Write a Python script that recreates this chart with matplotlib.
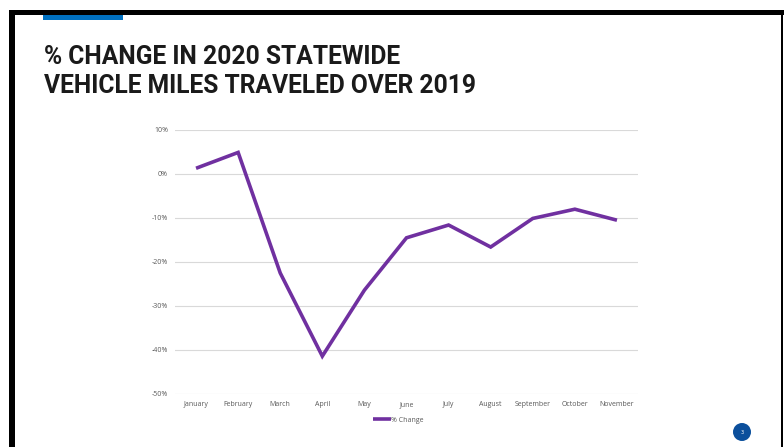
import matplotlib
matplotlib.use("Agg")
import matplotlib.pyplot as plt
from matplotlib.patches import Rectangle, Ellipse
from matplotlib.ticker import FuncFormatter

months = ["January", "February", "March", "April", "May", "June",
          "July", "August", "September", "October", "November"]
pct_change = [1.3, 4.9, -22.5, -41.4, -26.4, -14.5, -11.6, -16.6, -10.1, -8.0, -10.5]
y_ticks = [10, 0, -10, -20, -30, -40, -50]
series_name = "% Change"
title_lines = ["% CHANGE IN 2020 STATEWIDE", "VEHICLE MILES TRAVELED OVER 2019"]
page_number = "3"

W, H = 784, 447
fig = plt.figure(figsize=(W / 100, H / 100), dpi=100)
fig.patch.set_facecolor("white")


def fx(px):
    return px / W


def fy(py):
    return 1 - py / H


def rect_px(x0, y0, x1, y1, color):
    fig.add_artist(Rectangle((fx(x0), fy(y1)), fx(x1) - fx(x0), fy(y0) - fy(y1),
                             transform=fig.transFigure, facecolor=color,
                             edgecolor="none", zorder=5))


# slide frame
rect_px(9, 10, 784, 15, "black")
rect_px(9, 10, 15, 447, "black")
rect_px(781, 10, 783, 447, "black")
# accent bar
rect_px(43, 15, 123, 20, "#0070C0")

# title
title_font = ["Roboto", "DejaVu Sans"]
for i, line in enumerate(title_lines):
    fig.text(fx(44), fy(57 + 29 * i), line, fontsize=17.7, fontweight="bold",
             family=title_font, color="#1a1a1a", va="center", ha="left")

# chart
ax = fig.add_axes([fx(175), fy(394), fx(638) - fx(175), fy(130) - fy(394)])
x = list(range(len(months)))
ax.plot(x, pct_change, color="#7030A0", linewidth=2.6, label=series_name,
        solid_capstyle="butt", solid_joinstyle="miter", zorder=3)
ax.set_xlim(-0.5, len(months) - 0.5)
ax.set_ylim(-50, 10)
ax.set_yticks(y_ticks)
ax.yaxis.set_major_formatter(FuncFormatter(lambda v, p: f"{v:.0f}%"))
ax.set_xticks(x)
ax.set_xticklabels(months)
ax.grid(axis="y", color="#D9D9D9", linewidth=0.8)
ax.set_axisbelow(True)
for s in ax.spines.values():
    s.set_visible(False)
ax.tick_params(length=0, labelsize=5, labelcolor="#595959")
ax.tick_params(axis="y", pad=5)
ax.tick_params(axis="x", pad=5)
for lab in ax.get_xticklabels() + ax.get_yticklabels():
    lab.set_family(["Open Sans", "DejaVu Sans"])

leg = ax.legend(loc="upper center", bbox_to_anchor=(0.483, -0.075), frameon=False,
                fontsize=5, handlelength=2.6, handletextpad=0.0, borderaxespad=0)
for t in leg.get_texts():
    t.set_color("#595959")
    t.set_family(["Open Sans", "DejaVu Sans"])

# page number badge
fig.add_artist(Ellipse((fx(742), fy(432)), 18 / W, 18 / H, transform=fig.transFigure,
                       facecolor="#0B4F9C", edgecolor="none", zorder=5))
fig.text(fx(742), fy(432), page_number, fontsize=3.5, color="white",
         ha="center", va="center", zorder=6)

fig.savefig("out.png", dpi=100)
